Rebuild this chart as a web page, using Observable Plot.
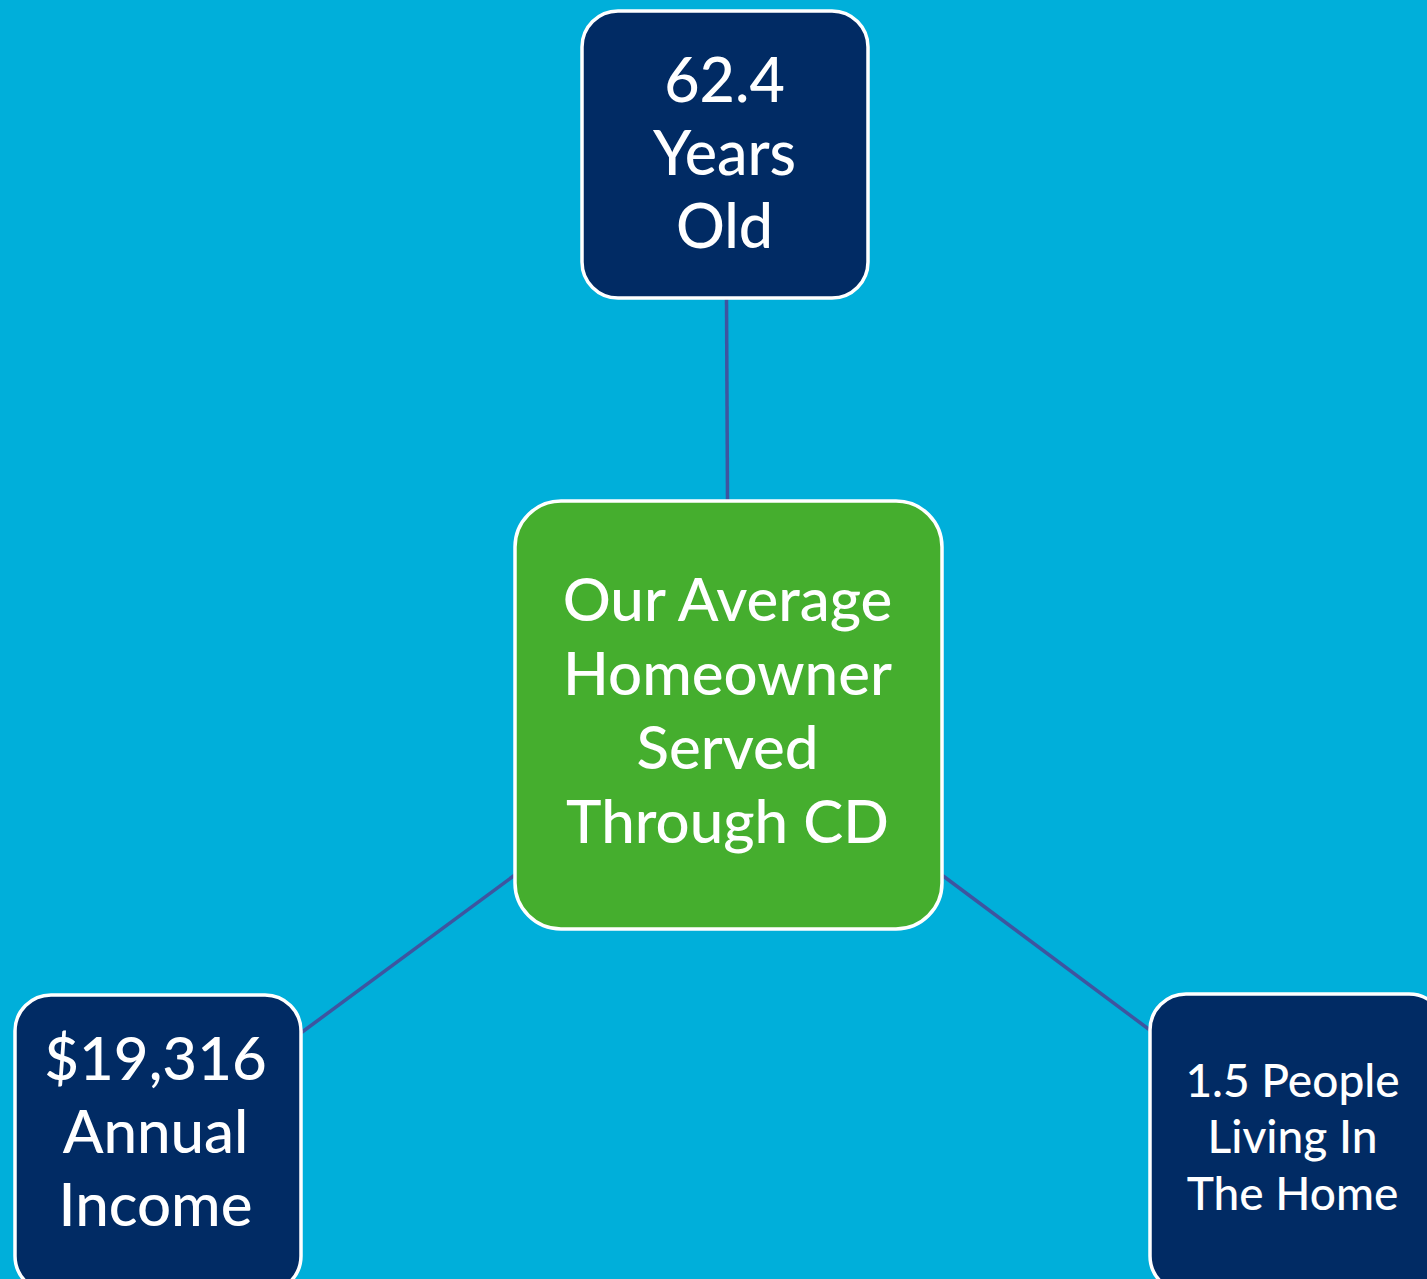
<!DOCTYPE html>
<html>
<head>
<meta charset="utf-8">
<script src="https://cdn.jsdelivr.net/npm/d3@7"></script>
<script src="https://cdn.jsdelivr.net/npm/@observablehq/plot@0.6"></script>
<style>
  html, body { margin: 0; padding: 0; background: #00AFDA; overflow: hidden; }
  #chart svg { display: block; }
</style>
</head>
<body>
<div id="chart"></div>
<script>
// ---- data ----
const nodeIds = ["center", "age", "income", "people"];
const nodeLabels = [
  "Our Average\nHomeowner\nServed\nThrough CD",
  "62.4\nYears\nOld",
  "$19,316\nAnnual\nIncome",
  "1.5 People\nLiving In\nThe Home"
];
const nodeKinds = ["hub", "stat", "stat", "stat"];
const edgeFrom = ["age", "center", "center"];
const edgeTo = ["center", "income", "people"];

// ---- layout (diagram geometry, separate from data) ----
const W = 1427, H = 1279;
const layout = {
  center: {x1: 515, x2: 942, y1: 501, y2: 929, r: 46, fs: 60, lh: 1.23, cx: 727, ty: 708},
  age:    {x1: 582, x2: 868, y1: 11,  y2: 298, r: 36, fs: 61, lh: 1.2, cx: 724, ty: 151},
  income: {x1: 15,  x2: 301, y1: 995, y2: 1292, r: 36, fs: 60, lh: 1.22, cx: 155, ty: 1129},
  people: {x1: 1150, x2: 1445, y1: 994, y2: 1292, r: 36, fs: 46, lh: 1.22, cx: 1292, ty: 1135}
};
const edgeAnchors = {
  "age-center":    {x1: 726, y1: 298, x2: 727, y2: 501},
  "center-income": {x1: 515, y1: 874, x2: 301, y2: 1032},
  "center-people": {x1: 942, y1: 875, x2: 1150, y2: 1030}
};
const fills = {hub: "#45AE2E", stat: "#012B64"};

const nodes = nodeIds.map((id, i) => ({id, label: nodeLabels[i], kind: nodeKinds[i], ...layout[id]}));
const edges = edgeFrom.map((f, i) => ({from: f, to: edgeTo[i], ...edgeAnchors[f + "-" + edgeTo[i]]}));

const font = "Lato, 'Open Sans', sans-serif";

const plot = Plot.plot({
  width: W,
  height: H,
  margin: 0,
  x: {domain: [0, W], range: [0, W], axis: null},
  y: {domain: [0, H], range: [0, H], axis: null},
  style: {background: "#00AFDA", overflow: "hidden"},
  marks: [
    Plot.link(edges, {x1: "x1", y1: "y1", x2: "x2", y2: "y2", stroke: "#3E55A0", strokeWidth: 3.5}),
    ...nodes.map(d => Plot.rect([d], {
      x1: "x1", x2: "x2", y1: "y1", y2: "y2",
      fill: fills[d.kind], stroke: "white", strokeWidth: 3.5, rx: d.r, ry: d.r
    })),
    ...nodes.map(d => Plot.text([d], {
      x: "cx", y: "ty", text: "label",
      fill: "white", fontSize: d.fs, fontFamily: font, fontWeight: 500,
      lineHeight: d.lh,
      textAnchor: "middle", lineAnchor: "middle"
    }))
  ]
});
document.getElementById("chart").appendChild(plot);
</script>
</body>
</html>
